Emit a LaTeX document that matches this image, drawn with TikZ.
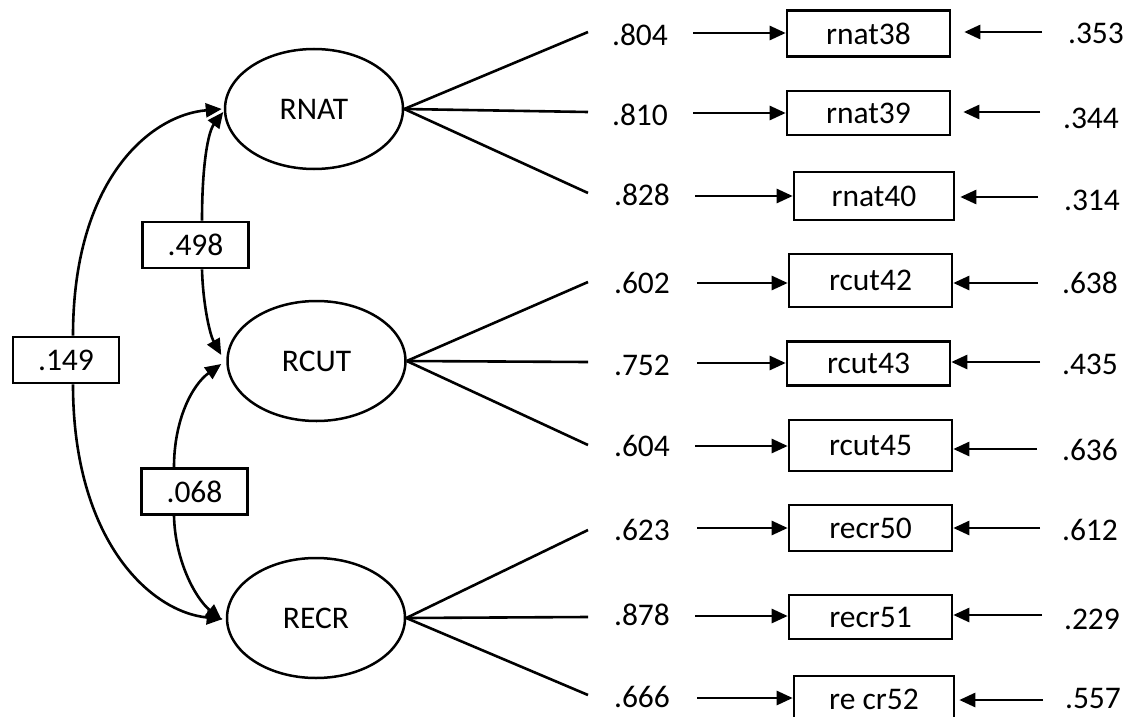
\documentclass[tikz,border=0pt]{standalone}
\usepackage{fontspec}
\setmainfont{Carlito}
\usetikzlibrary{arrows.meta,shapes.geometric}
\begin{document}
\begin{tikzpicture}[x=1pt,y=-1pt,
  every node/.style={font=\fontsize{31.5}{36}\selectfont},
  latent/.style={draw,ellipse,line width=2.5pt,inner sep=0pt,minimum width=178pt,minimum height=120pt},
  obs/.style={draw,rectangle,line width=2.6pt,inner sep=0pt,minimum width=163pt,minimum height=46pt},
  cov/.style={draw,rectangle,line width=2.6pt,fill=white,inner sep=0pt,minimum width=106pt,minimum height=46pt},
  lbl/.style={inner sep=0pt},
  ln/.style={line width=2.6pt},
  arr/.style={line width=2.6pt,-{Triangle[length=16pt,width=14pt]}}]
\useasboundingbox (0,0) rectangle (1135,717);

% latent variables
\node[latent] (RNAT) at (314,109) {RNAT};
\node[latent] (RCUT) at (316.5,361) {RCUT};
\node[latent] (RECR) at (316,618) {RECR};

% observed variables
\node[obs] (b1) at (868.5,33.5) {rnat38};
\node[obs,minimum height=44pt] (b2) at (868.5,113) {rnat39};
\node[obs,minimum width=160pt,minimum height=48pt] (b3) at (874,196) {rnat40};
\node[obs,minimum height=53pt] (b4) at (870.5,280.5) {rcut42};
\node[obs,minimum height=44pt] (b5) at (868.5,363.5) {rcut43};
\node[obs,minimum height=51pt] (b6) at (870.5,445.5) {rcut45};
\node[obs] (b7) at (870.5,528) {recr50};
\node[obs,minimum height=44pt] (b8) at (870.5,617) {recr51};
\node[obs,minimum width=160pt,minimum height=47pt] (b9) at (874,699.5) {re cr52};

% loading labels
\node[lbl] (l1) at (640,35) {.804};
\node[lbl] (l2) at (640,115) {.810};
\node[lbl] (l3) at (642,195) {.828};
\node[lbl] (l4) at (642,283) {.602};
\node[lbl] (l5) at (642,365) {.752};
\node[lbl] (l6) at (642,446) {.604};
\node[lbl] (l7) at (642,530) {.623};
\node[lbl] (l8) at (642,615) {.878};
\node[lbl] (l9) at (642,697) {.666};

% error labels
\node[lbl] (e1) at (1096,33) {.353};
\node[lbl] (e2) at (1091,118) {.344};
\node[lbl] (e3) at (1092,200) {.314};
\node[lbl] (e4) at (1090,283) {.638};
\node[lbl] (e5) at (1090,364) {.435};
\node[lbl] (e6) at (1090,450) {.636};
\node[lbl] (e7) at (1090,530) {.612};
\node[lbl] (e8) at (1092,619) {.229};
\node[lbl] (e9) at (1093,699) {.557};

% covariance boxes
\node[cov] (c149) at (66,360) {.149};
\node[cov] (c498) at (195.5,245) {.498};
\node[cov] (c068) at (194.5,491.5) {.068};

% loading line ends
\coordinate (n1) at (588,32);
\coordinate (n2) at (588,112);
\coordinate (n3) at (588,193);
\coordinate (n4) at (588,282);
\coordinate (n5) at (588,362);
\coordinate (n6) at (588,445);
\coordinate (n7) at (588,530);
\coordinate (n8) at (588,617);
\coordinate (n9) at (588,695);

\draw[ln] (RNAT.east) -- (n1);
\draw[ln] (RNAT.east) -- (n2);
\draw[ln] (RNAT.east) -- (n3);
\draw[ln] (RCUT.east) -- (n4);
\draw[ln] (RCUT.east) -- (n5);
\draw[ln] (RCUT.east) -- (n6);
\draw[ln] (RECR.east) -- (n7);
\draw[ln] (RECR.east) -- (n8);
\draw[ln] (RECR.east) -- (n9);

% arrow starts (left)
\coordinate (s1) at (693,33);
\coordinate (s2) at (693,113);
\coordinate (s3) at (695,196);
\coordinate (s4) at (697,283);
\coordinate (s5) at (697,363);
\coordinate (s6) at (695,446);
\coordinate (s7) at (697,528);
\coordinate (s8) at (695,616);
\coordinate (s9) at (697,698);

\draw[arr] (s1) -- (b1.west |- s1);
\draw[arr] (s2) -- (b2.west |- s2);
\draw[arr] (s3) -- (b3.west |- s3);
\draw[arr] (s4) -- (b4.west |- s4);
\draw[arr] (s5) -- (b5.west |- s5);
\draw[arr] (s6) -- (b6.west |- s6);
\draw[arr] (s7) -- (b7.west |- s7);
\draw[arr] (s8) -- (b8.west |- s8);
\draw[arr] (s9) -- (b9.west |- s9);

% error arrow starts (right)
\coordinate (r1) at (1042,32);
\coordinate (r2) at (1040,112);
\coordinate (r3) at (1038,197);
\coordinate (r4) at (1038,283);
\coordinate (r5) at (1040,362);
\coordinate (r6) at (1037,449);
\coordinate (r7) at (1040,528);
\coordinate (r8) at (1042,615);
\coordinate (r9) at (1043,700);

\draw[arr,shorten >=13pt] (r1) -- (b1.east |- r1);
\draw[arr,shorten >=12pt] (r2) -- (b2.east |- r2);
\draw[arr,shorten >=5pt] (r3) -- (b3.east |- r3);
\draw[arr] (r4) -- (b4.east |- r4);
\draw[arr] (r5) -- (b5.east |- r5);
\draw[arr] (r6) -- (b6.east |- r6);
\draw[arr] (r7) -- (b7.east |- r7);
\draw[arr] (r8) -- (b8.east |- r8);
\draw[arr,shorten >=4pt] (r9) -- (b9.east |- r9);

% covariances
\draw[arr] ([xshift=7pt]c149.north) .. controls (73,180) and (150,115) .. ([xshift=-2pt]RNAT.west);
\draw[arr] ([xshift=7pt]c149.south) .. controls (73,540) and (150,612) .. ([xshift=-3pt,yshift=-1pt]RECR.west);
\draw[arr] ([xshift=6.5pt]c498.north) .. controls (202,165) and (208,132) .. ([xshift=-3pt,yshift=-3pt]RCUT.west |- RNAT.west);
\draw[arr] ([xshift=6.5pt]c498.south) .. controls (203,305) and (210,335) .. ([xshift=-5pt,yshift=6pt]RCUT.west);
\draw[arr] ([xshift=-20.5pt]c068.north) .. controls (174,420) and (192,385) .. ([xshift=-5pt,yshift=-3pt]RCUT.west);
\draw[arr] ([xshift=-20.5pt]c068.south) .. controls (175,560) and (195,598) .. ([xshift=-4pt,yshift=-2pt]RECR.west);
\end{tikzpicture}
\end{document}
